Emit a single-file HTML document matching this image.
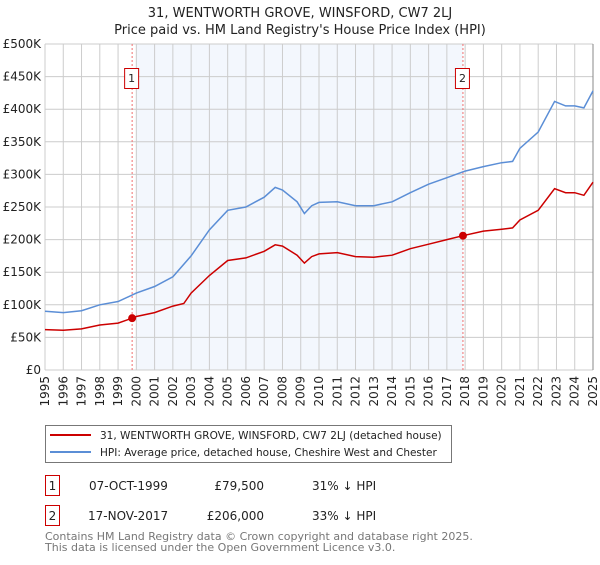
<!DOCTYPE html>
<html><head><meta charset="utf-8"><style>
body{margin:0;background:#fff;}
svg{font-family:"DejaVu Sans","Liberation Sans",sans-serif;}
</style></head><body>
<svg id="chart" width="600" height="560" viewBox="0 0 600 560" xmlns="http://www.w3.org/2000/svg">
<text x="300" y="17" text-anchor="middle" font-size="13" fill="#222">31, WENTWORTH GROVE, WINSFORD, CW7 2LJ</text>
<text x="300" y="34" text-anchor="middle" font-size="13" fill="#222">Price paid vs. HM Land Registry's House Price Index (HPI)</text>
<g id="plot"></g>
<g>
<rect x="45.5" y="425.5" width="406" height="37" fill="#fff" stroke="#777"/>
<line x1="50" y1="435" x2="91" y2="435" stroke="#cc0000" stroke-width="2"/>
<text x="100" y="439" font-size="10.5" fill="#222">31, WENTWORTH GROVE, WINSFORD, CW7 2LJ (detached house)</text>
<line x1="50" y1="452" x2="91" y2="452" stroke="#5b8ed6" stroke-width="2"/>
<text x="100" y="456" font-size="10.5" fill="#222">HPI: Average price, detached house, Cheshire West and Chester</text>
</g>
<g font-size="12" fill="#222">
<rect x="45.5" y="475.5" width="14" height="20" fill="#fff" stroke="#cc0000"/>
<text x="52.5" y="490" text-anchor="middle">1</text>
<text x="89" y="490">07-OCT-1999</text>
<text x="264" y="490" text-anchor="end">£79,500</text>
<text x="312" y="490">31% ↓ HPI</text>
<rect x="45.5" y="505.5" width="14" height="20" fill="#fff" stroke="#cc0000"/>
<text x="52.5" y="520" text-anchor="middle">2</text>
<text x="88" y="520">17-NOV-2017</text>
<text x="264" y="520" text-anchor="end">£206,000</text>
<text x="312" y="520">33% ↓ HPI</text>
</g>
<text x="45" y="540" font-size="11" fill="#777">Contains HM Land Registry data © Crown copyright and database right 2025.</text>
<text x="45" y="551" font-size="11" fill="#777">This data is licensed under the Open Government Licence v3.0.</text>
</svg>
<script>
const hpiYears=[1995,1996,1997,1998,1999,2000,2001,2002,2003,2004,2005,2006,2007,2007.6,2008,2008.8,2009.2,2009.6,2010,2011,2012,2013,2014,2015,2016,2017,2018,2019,2020,2020.6,2021,2022,2022.9,2023.5,2024,2024.5,2025];
const hpiValues=[90,88,91,100,105,118,128,143,175,215,245,250,265,280,276,258,240,252,257,258,252,252,258,272,285,295,305,312,318,320,340,365,412,405,405,402,428];
const ppYears=[1995,1996,1997,1998,1999,1999.77,2000,2001,2002,2002.6,2003,2004,2005,2006,2007,2007.6,2008,2008.8,2009.2,2009.6,2010,2011,2012,2013,2014,2015,2016,2017,2017.88,2019,2020,2020.6,2021,2022,2022.9,2023.5,2024,2024.5,2025];
const ppValues=[62,61,63,69,72,79.5,82,88,98,102,118,145,168,172,182,192,190,176,164,174,178,180,174,173,176,186,193,200,206,213,216,218,230,245,278,272,272,268,288];
const saleYears=[1999.77,2017.88];
const saleValues=[79.5,206];
const saleLabels=["1","2"];
const yTicks=[0,50,100,150,200,250,300,350,400,450,500];
const yTickLabels=["£0","£50K","£100K","£150K","£200K","£250K","£300K","£350K","£400K","£450K","£500K"];
const xTicks=[1995,1996,1997,1998,1999,2000,2001,2002,2003,2004,2005,2006,2007,2008,2009,2010,2011,2012,2013,2014,2015,2016,2017,2018,2019,2020,2021,2022,2023,2024,2025];

const NS="http://www.w3.org/2000/svg";
const L=45,R=593,T=44,B=370;
const x=v=>L+(v-1995)/30*(R-L);
const y=v=>B-v/500*(B-T);
const g=document.getElementById('plot');
function mk(tag,attrs,parent){const e=document.createElementNS(NS,tag);for(const k in attrs)e.setAttribute(k,attrs[k]);(parent||g).appendChild(e);return e;}
let e=mk('rect',{x:x(2000),y:T,width:x(saleYears[1])-x(2000),height:B-T,fill:'#eef3fc',opacity:'0.7'});


yTicks.forEach((v,i)=>{
 let l=mk('line',{x1:L,x2:R,y1:y(v),y2:y(v),stroke:'#ccc'});
 
 
 let t=mk('text',{x:41,y:y(v)+4,'text-anchor':'end','font-size':12,fill:'#222'});
 t.textContent=yTickLabels[i];
 
 
});
xTicks.forEach(v=>{
 let l=mk('line',{x1:x(v),x2:x(v),y1:T,y2:B,stroke:'#ccc'});
 
 
 let t=mk('text',{transform:`translate(${x(v)+4},376) rotate(-90)`,'text-anchor':'end','font-size':12,fill:'#222'});
 t.textContent=v;
 
 
});
e=mk('line',{x1:R,x2:R,y1:T,y2:B,stroke:'#888'});


saleYears.forEach((yr,i)=>{
 let l=mk('line',{x1:x(yr),x2:x(yr),y1:T,y2:B,stroke:'#f07070','stroke-dasharray':'2,2'});
 
 
 let r=mk('rect',{x:x(yr)-7.5,y:68.5,width:14,height:20,fill:'#fff',stroke:'#cc0000'});
 
 
 let t=mk('text',{x:x(yr)-0.5,y:82,'text-anchor':'middle','font-size':11,fill:'#222'});
 t.textContent=saleLabels[i];
 
 
});
function path(xs,vs){return xs.map((a,i)=>(i?'L':'M')+x(a).toFixed(1)+','+y(vs[i]).toFixed(1)).join('');}
e=mk('path',{d:path(hpiYears,hpiValues),fill:'none',stroke:'#5b8ed6','stroke-width':1.5});


e=mk('path',{d:path(ppYears,ppValues),fill:'none',stroke:'#cc0000','stroke-width':1.5});


saleYears.forEach((yr,i)=>{
 let c=mk('circle',{cx:x(yr),cy:y(saleValues[i]),r:4,fill:'#cc0000'});
 
 
});
</script>
</body></html>
